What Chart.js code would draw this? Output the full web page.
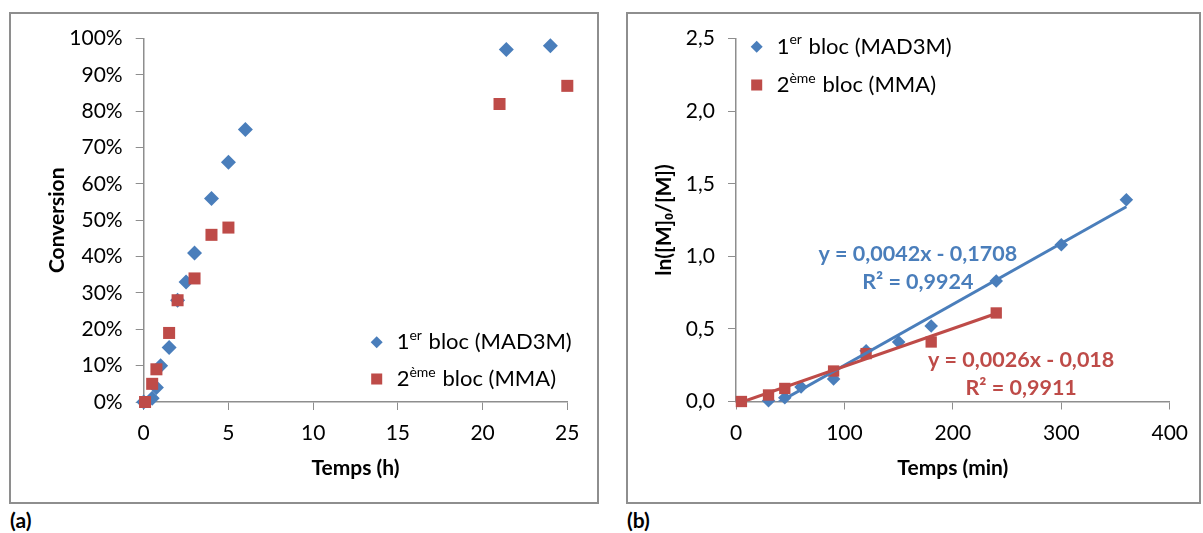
<!DOCTYPE html>
<html>
<head>
<meta charset="utf-8">
<script src="https://cdn.jsdelivr.net/npm/chart.js@4/dist/chart.umd.min.js"></script>
<style>
  body { margin: 0; background: #fff; width: 1203px; height: 533px; position: relative; overflow: hidden; font-family: Lato, sans-serif; }
  .frame { position: absolute; border: 2px solid #8e8e8e; box-sizing: border-box; }
  canvas { position: absolute; }
  .tag { position: absolute; font: bold 21px Lato, sans-serif; color: #000; }
</style>
</head>
<body>
<div class="frame" style="left:9px;top:12px;width:590px;height:492px"></div>
<div class="frame" style="left:626px;top:12px;width:575px;height:492px"></div>
<canvas id="chartA" width="588" height="490" style="left:10px;top:13px"></canvas>
<canvas id="chartB" width="572" height="490" style="left:627px;top:13px"></canvas>
<div class="tag" style="left:10px;top:507px">(a)</div>
<div class="tag" style="left:627px;top:507px">(b)</div>

<script>
// (a) conversion (%) vs time (h)
const timeA1 = [0, 0.5, 0.75, 1, 1.5, 2, 2.5, 3, 4, 5, 6, 21.4, 24];
const convA1 = [0, 1, 4, 10, 15, 28, 33, 41, 56, 66, 75, 97, 98];
const timeA2 = [0.08, 0.5, 0.75, 1.5, 2, 3, 4, 5, 21, 25];
const convA2 = [0, 5, 9, 19, 28, 34, 46, 48, 82, 87];

// (b) ln([M]0/[M]) vs time (min)
const timeB1 = [30, 45, 60, 90, 120, 150, 180, 240, 300, 360];
const lnB1 = [0.005, 0.026, 0.10, 0.155, 0.35, 0.41, 0.52, 0.83, 1.08, 1.39];
const timeB2 = [5, 30, 45, 90, 120, 180, 240];
const lnB2 = [0, 0.045, 0.09, 0.21, 0.33, 0.41, 0.61];

// linear fits printed on the chart
const fit1 = { slope: 0.0042, icpt: -0.1708, eq: 'y = 0,0042x - 0,1708', r2: 'R² = 0,9924' };
const fit2 = { slope: 0.0026, icpt: -0.018, eq: 'y = 0,0026x - 0,018', r2: 'R² = 0,9911' };

const blue = '#4a7ebb';
const red = '#be4b48';
const axisColor = '#8e8e8e';
const tickFont = { family: 'Lato', size: 21 };
const titleFont = { family: 'Lato', size: 21, weight: 'bold' };

function pts(xs, ys) {
  return xs.map((x, i) => ({ x: x, y: ys[i] }));
}
function fitLine(f, xs) {
  return [xs[0], xs[xs.length - 1]].map(x => ({ x: x, y: f.slope * x + f.icpt }));
}

// legend with superscripts, drawn on the canvas
const richLegend = {
  id: 'richLegend',
  afterDraw(chart, args, opts) {
    if (!opts.items) return;
    const ctx = chart.ctx;
    opts.items.forEach((it, i) => {
      const y = opts.y + i * opts.gap;
      ctx.save();
      ctx.fillStyle = it.color;
      Chart.helpers.drawPoint(ctx, { pointStyle: it.style, radius: it.radius, borderWidth: 0, rotation: 0 }, opts.x, y);
      let x = opts.textX;
      ctx.fillStyle = '#000';
      ctx.textBaseline = 'middle';
      it.parts.forEach(p => {
        const sup = p[1];
        ctx.font = (sup ? 14 : 22) + 'px Lato';
        ctx.fillText(p[0], x, sup ? y - 7 : y);
        x += ctx.measureText(p[0]).width + (sup ? 1 : 0);
      });
      ctx.restore();
    });
  }
};

// fit equations, anchored in data units
const fitLabels = {
  id: 'fitLabels',
  afterDraw(chart, args, opts) {
    if (!opts.items) return;
    const ctx = chart.ctx;
    const sx = chart.scales.x, sy = chart.scales.y;
    ctx.save();
    ctx.font = 'bold 21.5px Lato';
    ctx.textAlign = 'center';
    ctx.textBaseline = 'middle';
    opts.items.forEach(it => {
      ctx.fillStyle = it.color;
      ctx.fillText(it.text, sx.getPixelForValue(it.x), sy.getPixelForValue(it.y));
    });
    ctx.restore();
  }
};

function axisOpts(min, max, step, fmt, title, tickPad, titlePad, size, isX) {
  return {
    type: 'linear',
    min: min,
    max: max,
    afterFit(s) { if (isX) s.height = size; else s.width = size; },
    ticks: { stepSize: step, font: tickFont, color: '#000', padding: tickPad, autoSkip: false, maxRotation: 0, callback: fmt },
    grid: { drawOnChartArea: false, drawTicks: true, tickLength: 8, color: axisColor },
    border: { color: axisColor, width: 1.5 },
    title: { display: true, text: title, font: titleFont, color: '#000', padding: titlePad }
  };
}

const baseOpts = {
  responsive: false,
  animation: false,
  events: []
};

// chart (a)
new Chart(document.getElementById('chartA'), {
  type: 'scatter',
  data: {
    datasets: [
      { data: pts(timeA2, convA2), pointStyle: 'rect', pointRadius: 8.5, backgroundColor: red, borderWidth: 0, clip: false, order: 0 },
      { data: pts(timeA1, convA1), pointStyle: 'rectRot', pointRadius: 7.5, backgroundColor: blue, borderWidth: 0, clip: false, order: 1 }
    ]
  },
  options: Object.assign({}, baseOpts, {
    layout: { padding: { top: 23, right: 30.7, left: 0, bottom: 0 } },
    scales: {
      x: axisOpts(0, 25, 5, v => v, 'Temps (h)', 11, { bottom: 22 }, 101, true),
      y: axisOpts(0, 100, 10, v => v + '%', 'Conversion', 13, { top: 35 }, 133.7, false)
    },
    plugins: {
      legend: { display: false },
      tooltip: { enabled: false },
      richLegend: {
        x: 376.7 - 10, y: 342.3 - 13, gap: 36.7, textX: 396.7 - 10,
        items: [
          { style: 'rectRot', radius: 6, color: blue, parts: [['1', false], ['er', true], [' bloc (MAD3M)', false]] },
          { style: 'rect', radius: 7.8, color: red, parts: [['2', false], ['ème', true], [' bloc (MMA)', false]] }
        ]
      }
    }
  }),
  plugins: [richLegend]
});

// chart (b)
new Chart(document.getElementById('chartB'), {
  type: 'scatter',
  data: {
    datasets: [
      { data: fitLine(fit2, timeB2), showLine: true, borderColor: red, borderWidth: 3, pointRadius: 0, clip: 0, order: 0 },
      { data: fitLine(fit1, timeB1), showLine: true, borderColor: blue, borderWidth: 3, pointRadius: 0, clip: 0, order: 1 },
      { data: pts(timeB2, lnB2), pointStyle: 'rect', pointRadius: 8, backgroundColor: red, borderWidth: 0, clip: false, order: 2 },
      { data: pts(timeB1, lnB1), pointStyle: 'rectRot', pointRadius: 6.8, backgroundColor: blue, borderWidth: 0, clip: false, order: 3 }
    ]
  },
  options: Object.assign({}, baseOpts, {
    layout: { padding: { top: 23, right: 21.7, left: 0, bottom: 0 } },
    scales: {
      x: axisOpts(0, 400, 100, v => v, 'Temps (min)', 11, { bottom: 22 }, 101.5, true),
      y: axisOpts(0, 2.5, 0.5, v => v.toFixed(1).replace('.', ','), 'ln([M]₀/[M])', 13, { top: 25 }, 109, false)
    },
    plugins: {
      legend: { display: false },
      tooltip: { enabled: false },
      richLegend: {
        x: 756.7 - 627, y: 46.7 - 13, gap: 38.3, textX: 776.7 - 627,
        items: [
          { style: 'rectRot', radius: 6, color: blue, parts: [['1', false], ['er', true], [' bloc (MAD3M)', false]] },
          { style: 'rect', radius: 7.8, color: red, parts: [['2', false], ['ème', true], [' bloc (MMA)', false]] }
        ]
      },
      fitLabels: {
        items: [
          { text: fit1.eq, color: blue, x: 167.7, y: 1.015 },
          { text: fit1.r2, color: blue, x: 167.7, y: 0.82 },
          { text: fit2.eq, color: red, x: 263, y: 0.284 },
          { text: fit2.r2, color: red, x: 263, y: 0.09 }
        ]
      }
    }
  }),
  plugins: [richLegend, fitLabels]
});
</script>
</body>
</html>
